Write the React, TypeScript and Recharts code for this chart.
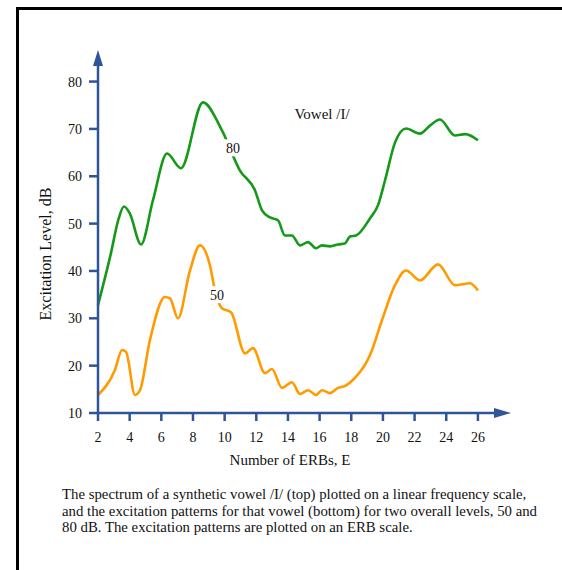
import { LineChart, Line, XAxis, YAxis, ReferenceDot } from "recharts";

// 80 dB excitation pattern (green)
const erb80 = [2, 2.8, 3.3, 3.64, 4.0, 4.72, 5.47, 6.36, 7.24, 8.63, 9.83, 10.97, 11.92, 12.36, 12.87, 13.37, 13.81, 14.25, 14.76, 15.27, 15.77, 16.15, 16.66, 17.16, 17.6, 17.92, 18.3, 19.18, 19.69, 20.13, 20.76, 21.46, 22.34, 22.97, 23.6, 24.55, 25.2, 26];
const level80 = [32.8, 43.5, 51, 53.6, 52.2, 45.6, 54.9, 64.8, 61.7, 75.6, 69.7, 61.2, 57, 52.8, 51.3, 50.7, 47.5, 47.5, 45.4, 46.1, 44.8, 45.4, 45.2, 45.6, 45.8, 47.3, 47.5, 51.1, 53.9, 59.1, 67.1, 70.1, 69, 70.7, 72, 68.6, 68.9, 67.6];

// 50 dB excitation pattern (orange)
const erb50 = [2, 3.07, 3.52, 3.77, 4.34, 4.65, 5.28, 6.23, 6.55, 7.05, 7.81, 8.44, 9.07, 9.39, 9.83, 10.4, 11.29, 11.79, 12.55, 12.99, 13.62, 14.25, 14.76, 15.27, 15.77, 16.15, 16.66, 17.16, 17.6, 18.23, 19.18, 19.94, 20.76, 21.46, 22.34, 23.48, 24.55, 25.5, 26];
const level50 = [13.8, 19.1, 23.3, 22.9, 13.8, 14.8, 25.4, 34.5, 34.2, 30, 40.1, 45.4, 41.2, 35.9, 32.1, 31.3, 22.6, 23.7, 18.4, 19.3, 15.3, 16.5, 14, 14.8, 13.8, 14.8, 14.2, 15.3, 15.7, 17.4, 22.2, 29.6, 37, 40.1, 38, 41.4, 37, 37.4, 35.9];

const xTicks = [2, 4, 6, 8, 10, 12, 14, 16, 18, 20, 22, 24, 26];
const yTicks = [10, 20, 30, 40, 50, 60, 70, 80];

const AXIS = "#2e5597";
const serif = "'Liberation Serif', 'Times New Roman', serif";

const data80 = erb80.map((e, i) => ({ e, v: level80[i] }));
const data50 = erb50.map((e, i) => ({ e, v: level50[i] }));

const curveLabel = (text: string) => (props: any) => {
  const { viewBox } = props;
  const cx = viewBox.x + viewBox.width / 2;
  const cy = viewBox.y + viewBox.height / 2;
  return (
    <g>
      <rect x={cx - 10} y={cy - 9} width={20} height={17} fill="#fff" />
      <text x={cx} y={cy + 5} textAnchor="middle" fontSize={14} fontFamily={serif} fill="#111">
        {text}
      </text>
    </g>
  );
};

const App = () => {
  return (
    <div style={{ position: "fixed", left: 0, top: 0, width: 562, height: 570, fontFamily: serif, overflow: "hidden", background: "#fff" }}>
      <div
        style={{
          position: "absolute",
          left: 16,
          top: 7,
          width: 600,
          height: 600,
          borderLeft: "3px solid #000",
          borderTop: "3px solid #000",
        }}
      />
      <LineChart
        width={562}
        height={570}
        margin={{ top: 65, right: 67, left: 38, bottom: 127 }}
        style={{ position: "absolute", left: 0, top: 0 }}
      >
        <XAxis
          dataKey="e"
          type="number"
          domain={[2, 27.08]}
          ticks={xTicks}
          height={30}
          tickSize={8}
          tickMargin={11}
          axisLine={{ stroke: AXIS, strokeWidth: 2.5 }}
          tickLine={{ stroke: AXIS, strokeWidth: 2.5 }}
          tick={{ fill: "#111", fontSize: 14, fontFamily: serif }}
          allowDuplicatedCategory={false}
        />
        <YAxis
          type="number"
          domain={[10, 83.5]}
          ticks={yTicks}
          width={60}
          tickSize={9}
          tickMargin={7}
          axisLine={{ stroke: AXIS, strokeWidth: 2.5 }}
          tickLine={{ stroke: AXIS, strokeWidth: 2.5 }}
          tick={{ fill: "#111", fontSize: 14, fontFamily: serif }}
        />
        <Line data={data80} dataKey="v" type="monotone" stroke="#15991a" strokeWidth={2.6} dot={false} isAnimationActive={false} />
        <Line data={data50} dataKey="v" type="monotone" stroke="#ff9a00" strokeWidth={2.6} dot={false} isAnimationActive={false} />
        <ReferenceDot x={10.53} y={65.9} r={0} fill="none" stroke="none" label={curveLabel("80")} />
        <ReferenceDot x={9.52} y={34.9} r={0} fill="none" stroke="none" label={curveLabel("50")} />
        <ReferenceDot
          x={16.15}
          y={73.3}
          r={0}
          fill="none"
          stroke="none"
          label={{ value: "Vowel /I/", fontSize: 15, fontFamily: serif, fill: "#111", position: "center" }}
        />
      </LineChart>
      {/* arrow heads on the axes */}
      <svg width={562} height={570} style={{ position: "absolute", left: 0, top: 0, pointerEvents: "none" }}>
        <polygon points="98,50 93,66 103,66" fill={AXIS} />
        <polygon points="511,413 494,408 494,418" fill={AXIS} />
      </svg>
      <div
        style={{
          position: "absolute",
          left: 46,
          top: 254,
          transform: "translate(-50%, -50%) rotate(-90deg)",
          whiteSpace: "nowrap",
          fontSize: 16,
          color: "#111",
        }}
      >
        Excitation Level, dB
      </div>
      <div
        style={{
          position: "absolute",
          left: 290,
          top: 460,
          transform: "translate(-50%, -50%)",
          whiteSpace: "nowrap",
          fontSize: 15,
          color: "#111",
        }}
      >
        Number of ERBs, E
      </div>
      <div
        style={{
          position: "absolute",
          left: 62,
          top: 486,
          fontSize: 14.8,
          lineHeight: "16.5px",
          color: "#111",
          whiteSpace: "nowrap",
        }}
      >
        The spectrum of a synthetic vowel /I/ (top) plotted on a linear frequency scale,
        <br />
        and the excitation patterns for that vowel (bottom) for two overall levels, 50 and
        <br />
        80 dB. The excitation patterns are plotted on an ERB scale.
      </div>
    </div>
  );
};

export default App;
